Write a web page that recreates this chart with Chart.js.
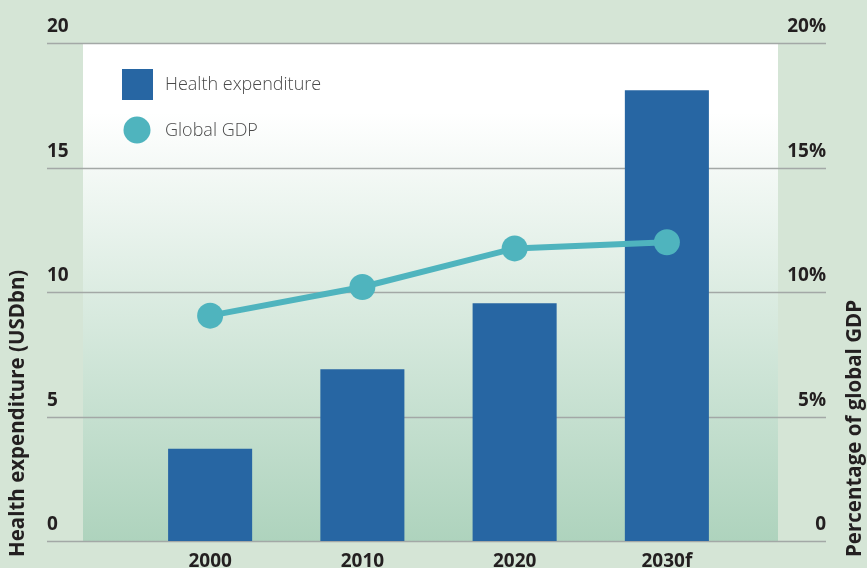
<!DOCTYPE html>
<html>
<head>
<meta charset="utf-8">
<script src="https://cdn.jsdelivr.net/npm/chart.js@4"></script>
<style>
  html, body { margin: 0; padding: 0; background: #d5e5d6; }
  #wrap { width: 867px; height: 568px; }
</style>
</head>
<body>
<div id="wrap"><canvas id="myChart" width="867" height="568"></canvas></div>
<script>
// datos
const years = ['2000', '2010', '2020', '2030f']
const healthSpend = [3.7, 6.9, 9.55, 18.1]
const gdpShare = [9.05, 10.2, 11.75, 12.0]
const leftTicks = ['0', '5', '10', '15', '20']
const rightTicks = ['0', '5%', '10%', '15%', '20%']

const azul = '#2766a3'
const turquesa = '#4fb4be'
const fontTick = 'bold 19px "Open Sans"'
const fontTitulo = 'bold 20.5px "Open Sans"'

// fondo, rejilla, etiquetas y leyenda
const decoracion = {
    id: 'decoracion',
    beforeDatasetsDraw(chart) {
        const { ctx, chartArea } = chart
        const y = chart.scales.y
        const top = y.getPixelForValue(20)
        const bottom = y.getPixelForValue(0)
        const panelL = chartArea.left - 51
        const panelR = chartArea.right + 35
        const grad = ctx.createLinearGradient(0, top, 0, bottom)
        grad.addColorStop(0, '#ffffff')
        grad.addColorStop(0.14, '#ffffff')
        grad.addColorStop(0.5, '#dcece2')
        grad.addColorStop(1, '#aed3bd')
        ctx.save()
        ctx.fillStyle = grad
        ctx.fillRect(panelL, top, panelR - panelL, bottom - top)

        // lineas
        ctx.strokeStyle = '#a3a8a6'
        ctx.lineWidth = 1.5
        leftTicks.forEach((t) => {
            const py = Math.round(y.getPixelForValue(Number(t))) + 0.5
            ctx.beginPath()
            ctx.moveTo(47, py)
            ctx.lineTo(826, py)
            ctx.stroke()
        })

        // etiquetas eje y
        ctx.font = fontTick
        ctx.fillStyle = '#231f20'
        ctx.textBaseline = 'alphabetic'
        leftTicks.forEach((t, i) => {
            const py = y.getPixelForValue(Number(t))
            ctx.textAlign = 'left'
            ctx.fillText(t, 47, py - 11)
            ctx.textAlign = 'right'
            ctx.fillText(rightTicks[i], 826, py - 11)
        })

        // etiquetas eje x
        const x = chart.scales.x
        ctx.textAlign = 'center'
        ctx.textBaseline = 'top'
        years.forEach((yr, i) => {
            ctx.fillText(yr, x.getPixelForValue(i), bottom + 11)
        })

        // titulos
        ctx.font = fontTitulo
        ctx.textAlign = 'left'
        ctx.textBaseline = 'middle'
        ctx.save()
        ctx.translate(18, 557)
        ctx.rotate(-Math.PI / 2)
        ctx.fillText('Health expenditure (USDbn)', 0, 0)
        ctx.restore()
        ctx.save()
        ctx.translate(855, 557)
        ctx.rotate(-Math.PI / 2)
        ctx.fillText('Percentage of global GDP', 0, 0)
        ctx.restore()

        // leyenda
        ctx.fillStyle = azul
        ctx.fillRect(122, 69, 31, 31)
        ctx.fillStyle = turquesa
        ctx.beginPath()
        ctx.arc(137, 130, 13.5, 0, Math.PI * 2)
        ctx.fill()
        ctx.font = '300 18px "Open Sans"'
        ctx.fillStyle = '#4a4a4a'
        ctx.textBaseline = 'middle'
        ctx.fillText(chart.data.datasets[0].label, 165, 85)
        ctx.fillText(chart.data.datasets[1].label, 165, 131)
        ctx.restore()
    }
}

const config = {
    data: {
        labels: years,
        datasets: [
            {
                type: 'bar',
                label: 'Health expenditure',
                data: healthSpend,
                yAxisID: 'y',
                backgroundColor: azul,
                barPercentage: 1,
                categoryPercentage: 0.552,
                order: 1
            },
            {
                type: 'line',
                label: 'Global GDP',
                data: gdpShare,
                yAxisID: 'y2',
                borderColor: turquesa,
                backgroundColor: turquesa,
                borderWidth: 6,
                pointRadius: 13,
                pointHoverRadius: 13,
                pointBorderWidth: 0,
                tension: 0,
                order: 0
            }
        ]
    },
    options: {
        responsive: false,
        animation: false,
        layout: { padding: { left: 134, right: 124, top: 43, bottom: 27 } },
        plugins: { legend: { display: false }, tooltip: { enabled: false } },
        scales: {
            x: { display: false, offset: true },
            y: { display: false, min: 0, max: 20 },
            y2: { display: false, min: 0, max: 20, position: 'right' }
        }
    },
    plugins: [decoracion]
}

const myChart = new Chart(document.getElementById('myChart'), config)
</script>
</body>
</html>
